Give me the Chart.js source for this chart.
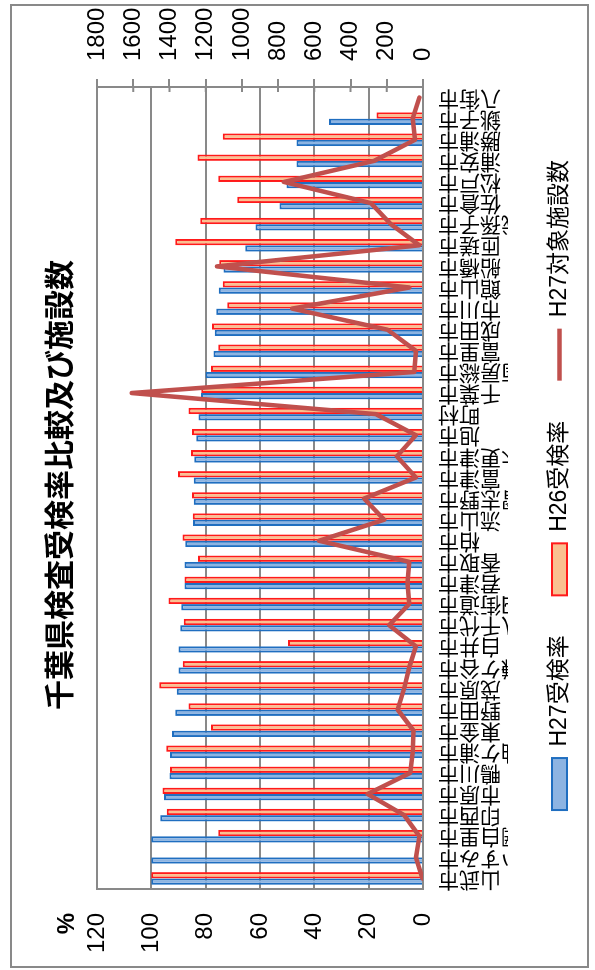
<!DOCTYPE html>
<html>
<head>
<meta charset="utf-8">
<script src="https://cdn.jsdelivr.net/npm/chart.js@4"></script>
<style>
  body { margin: 0; width: 595px; height: 970px; overflow: hidden; background: #fff; }
  /* chart is drawn landscape, then turned a quarter left */
  #wrap { position: absolute; left: 0; top: 0; width: 970px; height: 595px;
          transform-origin: 0 0; transform: translateY(970px) rotate(-90deg); }
</style>
</head>
<body>
<div id="wrap"><canvas id="chart" width="970" height="595"></canvas></div>
<script>
const categories = ['山武市','いすみ市','大網白里市','印西市','市原市','鴨川市','袖ケ浦市','東金市','野田市','茂原市',
  '鎌ケ谷市','白井市','八千代市','四街道市','君津市','香取市','柏市','流山市','習志野市','富津市',
  '木更津市','旭市','町村','千葉市','南房総市','富里市','成田市','市川市','館山市','船橋市',
  '匝瑳市','我孫子市','佐倉市','松戸市','浦安市','勝浦市','銚子市','八街市'];

const h27Rate = [100, 100, 100, 96.7, 95.3, 93.3, 93.1, 92.4, 91.2, 90.6,
  90.0, 90.0, 89.4, 89.0, 87.8, 87.8, 87.5, 84.7, 84.4, 84.4,
  84.2, 83.5, 82.6, 81.7, 80.1, 77.1, 76.7, 76.1, 75.2, 73.4,
  65.4, 61.7, 52.8, 50.2, 46.6, 46.6, 34.6, null];

const h26Rate = [100, null, 75.4, 94.3, 95.9, 93.1, 94.5, 78.0, 86.3, 97.1,
  88.4, 49.7, 88.1, 93.7, 87.8, 82.8, 88.5, 84.8, 85.0, 90.2,
  85.4, 85.0, 86.3, 81.6, 78.0, 75.4, 77.7, 72.1, 73.7, 75.0,
  91.2, 82.0, 68.4, 75.4, 83.0, 73.7, 17.1, null];

const h27Count = [3, 39, 20, 104, 306, 70, 57, 52, 140, 104,
  76, 39, 187, 76, 85, 76, 574, 214, 325, 39,
  144, 39, 260, 1608, 48, 39, 196, 722, 76, 1137,
  20, 177, 288, 768, 270, 44, 57, 20];

const FONT = "'Liberation Sans', 'Noto Sans CJK JP', sans-serif";
Chart.defaults.font.family = FONT;
Chart.defaults.color = '#000';

const GRID = '#898989';

// outer frame, the "%" label and the short inner ticks of the right axis
const extras = {
  id: 'extras',
  afterDraw(chart) {
    const ctx = chart.ctx;
    const area = chart.chartArea;
    ctx.save();
    ctx.strokeStyle = GRID;
    ctx.lineWidth = 2;
    ctx.strokeRect(3, 11, 962, 577);

    const y2 = chart.scales.y2;
    ctx.beginPath();
    y2.ticks.forEach(t => {
      const p = y2.getPixelForValue(t.value);
      ctx.moveTo(area.right - 5, p);
      ctx.lineTo(area.right, p);
    });
    ctx.stroke();

    ctx.fillStyle = '#000';
    ctx.font = 'bold 24px ' + FONT;
    ctx.textAlign = 'right';
    ctx.textBaseline = 'middle';
    ctx.fillText('%', 57, 67);
    ctx.restore();
  }
};

new Chart(document.getElementById('chart'), {
  data: {
    labels: categories,
    datasets: [
      {
        type: 'bar',
        label: 'H27受検率',
        data: h27Rate,
        backgroundColor: '#8DB4E2',
        borderColor: '#1F6EC0',
        borderWidth: 2,
        yAxisID: 'y',
        order: 1,
        categoryPercentage: 0.6,
        barPercentage: 1.0
      },
      {
        type: 'bar',
        label: 'H26受検率',
        data: h26Rate,
        backgroundColor: '#FAC090',
        borderColor: '#FF1A1A',
        borderWidth: 2,
        yAxisID: 'y',
        order: 1,
        categoryPercentage: 0.6,
        barPercentage: 1.0
      },
      {
        type: 'line',
        label: 'H27対象施設数',
        data: h27Count,
        borderColor: '#C0504D',
        backgroundColor: '#C0504D',
        borderWidth: 4.5,
        borderJoinStyle: 'round',
        borderCapStyle: 'round',
        pointRadius: 0,
        tension: 0,
        yAxisID: 'y2',
        order: 0
      }
    ]
  },
  options: {
    responsive: false,
    animation: false,
    layout: { padding: { top: 0, bottom: 14, left: 0, right: 0 } },
    plugins: {
      title: {
        display: true,
        text: '千葉県検査受検率比較及び施設数',
        color: '#000',
        font: { size: 30, weight: 'bold' },
        padding: { top: 44, bottom: 17 }
      },
      legend: {
        position: 'bottom',
        labels: {
          usePointStyle: true,
          pointStyleWidth: 52,
          boxHeight: 15,
          padding: 40,
          font: { size: 23 },
          generateLabels(chart) {
            const items = Chart.defaults.plugins.legend.labels.generateLabels(chart);
            items.forEach(it => {
              it.pointStyle = chart.data.datasets[it.datasetIndex].type === 'line' ? 'line' : 'rect';
            });
            return items.sort((a, b) => a.datasetIndex - b.datasetIndex);
          }
        }
      },
      tooltip: { enabled: false }
    },
    scales: {
      x: {
        ticks: { autoSkip: false, minRotation: 90, maxRotation: 90, padding: 15, font: { size: 21 } },
        grid: { drawOnChartArea: false, drawTicks: false, color: GRID, lineWidth: 2 },
        border: { color: GRID, width: 2 },
        afterFit(scale) { scale.height = 85; }
      },
      y: {
        position: 'left',
        min: 0,
        max: 120,
        ticks: { stepSize: 20, padding: 24, font: { size: 24 } },
        grid: { color: GRID, lineWidth: 2, drawTicks: false },
        border: { color: GRID, width: 2 },
        afterFit(scale) { scale.width = 81; }
      },
      y2: {
        position: 'right',
        min: 0,
        max: 1800,
        ticks: { stepSize: 200, padding: 18, font: { size: 24 }, callback: v => String(v) },
        grid: { drawOnChartArea: false, color: GRID, lineWidth: 2, tickLength: 8 },
        border: { color: GRID, width: 2 },
        afterFit(scale) { scale.width = 87; }
      }
    }
  },
  plugins: [extras]
});
</script>
</body>
</html>
